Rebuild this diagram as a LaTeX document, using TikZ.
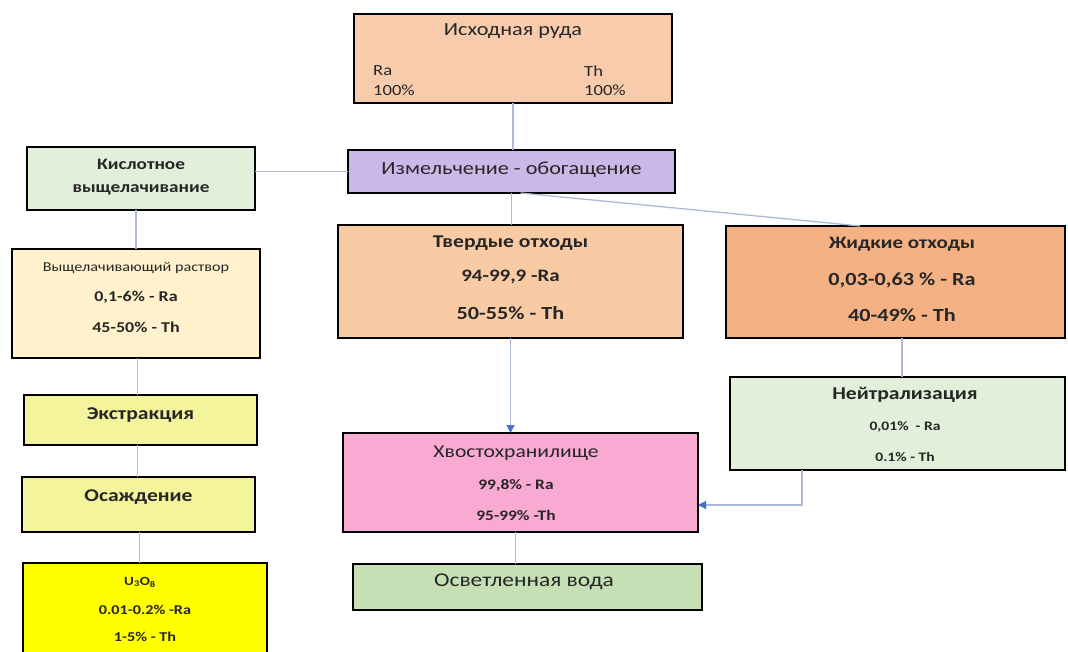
\documentclass[tikz,border=0pt]{standalone}
\usepackage{fontspec}
\setmainfont[FakeStretch=1.2]{Carlito}
\usetikzlibrary{calc,arrows.meta}
\definecolor{cOre}{HTML}{F8CBAD}
\definecolor{cMill}{HTML}{CCB8E8}
\definecolor{cLtGreen}{HTML}{E2EFDA}
\definecolor{cLeach}{HTML}{FFF2CC}
\definecolor{cSolid}{HTML}{F8CBA5}
\definecolor{cLiquid}{HTML}{F4B183}
\definecolor{cTail}{HTML}{F9AAD2}
\definecolor{cWater}{HTML}{C5E0B4}
\definecolor{cPaleY}{HTML}{F4F49C}
\definecolor{cYellow}{HTML}{FFFF00}
\definecolor{cLine}{HTML}{AEB9D6}
\definecolor{cArrow}{HTML}{4472C4}
\definecolor{cText}{HTML}{262626}
\tikzset{
  box/.style={draw=black, line width=1.6pt, inner sep=0pt, outer sep=0pt},
  conn/.style={draw=cLine, line width=1.3pt},
  arr/.style={conn, -{Triangle[length=8pt,width=8pt,color=cArrow]}},
  txt/.style={inner sep=0pt, text=cText, anchor=center},
}
\begin{document}
\begin{tikzpicture}[x=1pt,y=-1pt]
\path[use as bounding box, fill=white] (0,0) rectangle (1068,652);
% boxes
\node[box, fill=cOre, minimum width=318pt, minimum height=89pt] (ore) at (513,58.5) {};
\node[box, fill=cMill, minimum width=327pt, minimum height=43pt] (mill) at (511.5,171.5) {};
\node[box, fill=cLtGreen, minimum width=228pt, minimum height=63pt] (acid) at (141,178.5) {};
\node[box, fill=cLeach, minimum width=248pt, minimum height=109pt] (leach) at (136,303.5) {};
\node[box, fill=cSolid, minimum width=345pt, minimum height=113pt] (solid) at (510.5,281.5) {};
\node[box, fill=cLiquid, minimum width=339pt, minimum height=112pt] (liquid) at (895.5,282) {};
\node[box, fill=cLtGreen, minimum width=335pt, minimum height=93pt] (neutr) at (897.5,423.5) {};
\node[box, fill=cTail, minimum width=355pt, minimum height=99pt] (tail) at (520.5,482.5) {};
\node[box, fill=cWater, minimum width=349pt, minimum height=46pt] (water) at (527.5,587) {};
\node[box, fill=cPaleY, minimum width=233pt, minimum height=50pt] (extr) at (140.5,420) {};
\node[box, fill=cPaleY, minimum width=233pt, minimum height=55pt] (prec) at (138.5,504.5) {};
\node[box, fill=cYellow, minimum width=244pt, minimum height=98pt] (uox) at (145,612) {};
% connectors
\draw[conn] (ore.south) -- (ore.south |- mill.north);
\draw[conn] (mill.west) -- (mill.west -| acid.east);
\draw[conn] (mill.south) -- (mill.south |- solid.north);
\coordinate (dA) at ($(mill.south)+(9,0)$);
\coordinate (dB) at ($(liquid.north west)+(134,0)$);
\draw[conn] (dA) -- (dB);
\draw[arr] (solid.south) -- (solid.south |- tail.north);
\coordinate (lq) at ($(liquid.south)+(6.5,0)$);
\draw[conn] (lq) -- (lq |- neutr.north);
\coordinate (nq) at ($(neutr.south)+(-95.5,0)$);
\coordinate (tq) at ($(tail.east)+(0,22.5)$);
\draw[arr] (nq) |- (tq);
\draw[conn] ($(tail.south)+(-5,0)$) -- ($(tail.south |- water.north)+(-5,0)$);
\draw[conn] (leach.north) -- (leach.north |- acid.south);
\draw[conn] ($(extr.north)+(-3,0)$) -- ($(extr.north |- leach.south)+(-3,0)$);
\draw[conn] ($(prec.north)+(-1,0)$) -- ($(prec.north |- extr.south)+(-1,0)$);
\draw[conn] ($(prec.south)+(1,0)$) -- ($(prec.south |- uox.north)+(1,0)$);
% texts
\node[txt, font=\fontsize{18.5}{22}\selectfont] (oreT) at (513,31) {Исходная руда};
\node[txt, anchor=west, font=\fontsize{15.5}{18}\selectfont] (oreRa) at (373,71) {Ra};
\node[txt, anchor=west, font=\fontsize{15.5}{18}\selectfont] (oreRap) at (373,90) {100\%};
\node[txt, anchor=west, font=\fontsize{15.5}{18}\selectfont] (oreTh) at (584,71) {Th};
\node[txt, anchor=west, font=\fontsize{15.5}{18}\selectfont] (oreThp) at (584,90) {100\%};
\node[txt, font=\fontsize{18.5}{22}\selectfont] (millT) at (511.5,170) {Измельчение - обогащение};
\node[txt, font=\bfseries\fontsize{16}{19}\selectfont] (acidA) at (141,164) {Кислотное};
\node[txt, font=\bfseries\fontsize{16}{19}\selectfont] (acidB) at (141,190) {выщелачивание};
\node[txt, font=\fontsize{13.5}{16}\selectfont] (leachT) at (136,268) {Выщелачивающий раствор};
\node[txt, font=\bfseries\fontsize{15}{18}\selectfont] (leachA) at (136,297) {0,1-6\% - Ra};
\node[txt, font=\bfseries\fontsize{15}{18}\selectfont] (leachB) at (136,327) {45-50\% - Th};
\node[txt, font=\bfseries\fontsize{18}{21}\selectfont] (solidT) at (510.5,243) {Твердые отходы};
\node[txt, font=\bfseries\fontsize{17.5}{21}\selectfont] (solidA) at (510.5,277) {94-99,9 -Ra};
\node[txt, font=\bfseries\fontsize{18.5}{22}\selectfont] (solidB) at (510.5,313) {50-55\% - Th};
\node[txt, font=\bfseries\fontsize{17.5}{21}\selectfont] (liqT) at (902,244) {Жидкие отходы};
\node[txt, font=\bfseries\fontsize{18.5}{22}\selectfont] (liqA) at (902,280) {0,03-0,63 \% - Ra};
\node[txt, font=\bfseries\fontsize{18.5}{22}\selectfont] (liqB) at (902,315) {40-49\% - Th};
\node[txt, font=\bfseries\fontsize{18}{21}\selectfont] (neuT) at (905,395) {Нейтрализация};
\node[txt, font=\bfseries\fontsize{13}{16}\selectfont] (neuA) at (905,427) {0,01\%~~- Ra};
\node[txt, font=\bfseries\fontsize{13}{16}\selectfont] (neuB) at (905,457) {0.1\% - Th};
\node[txt, font=\fontsize{18}{21}\selectfont] (tailT) at (516,453) {Хвостохранилище};
\node[txt, font=\bfseries\fontsize{14.5}{17}\selectfont] (tailA) at (516,485) {99,8\% - Ra};
\node[txt, font=\bfseries\fontsize{14.5}{17}\selectfont] (tailB) at (516,515) {95-99\% -Th};
\node[txt, font=\fontsize{19.5}{23}\selectfont] (waterT) at (524,582) {Осветленная вода};
\node[txt, font=\bfseries\fontsize{18}{21}\selectfont] (extrT) at (140.5,415) {Экстракция};
\node[txt, font=\bfseries\fontsize{18}{21}\selectfont] (precT) at (138.5,497) {Осаждение};
\node[txt, font=\bfseries\fontsize{12.5}{15}\selectfont] (uoxT) at (140,582) {U\textsubscript{3}O\textsubscript{8}};
\node[txt, font=\bfseries\fontsize{13.5}{16}\selectfont] (uoxA) at (145,610) {0.01-0.2\% -Ra};
\node[txt, font=\bfseries\fontsize{13.5}{16}\selectfont] (uoxB) at (145,637) {1-5\% - Th};
\end{tikzpicture}
\end{document}
